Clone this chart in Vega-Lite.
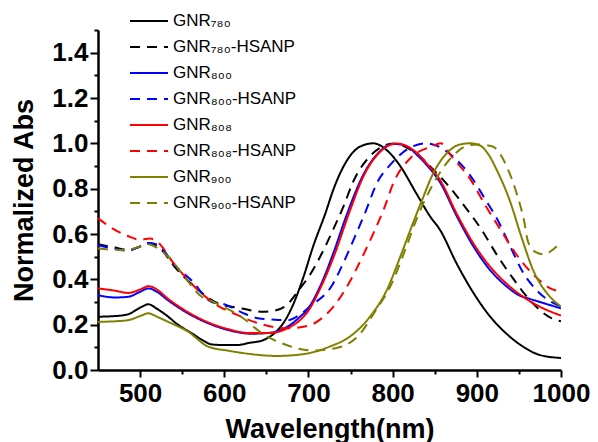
{
  "$schema": "https://vega.github.io/schema/vega-lite/v6.json",
  "autosize": {"type": "none"},
  "width": 463,
  "height": 340,
  "padding": {"left": 98, "top": 30, "right": 37, "bottom": 72},
  "background": "white",
  "config": {
    "view": {"stroke": null},
    "font": "Liberation Sans",
    "axis": {
      "grid": false,
      "domainColor": "#000",
      "domainWidth": 2.5,
      "tickColor": "#000",
      "tickWidth": 2,
      "labelColor": "#000",
      "labelFont": "Liberation Sans",
      "labelFontWeight": "bold",
      "labelFontSize": 26,
      "titleColor": "#000",
      "titleFont": "Liberation Sans",
      "titleFontWeight": "bold",
      "titleFontSize": 27
    }
  },
  "data": {"values": [
    {"s":"GNR₇₈₀","x":450,"y":0.235},{"s":"GNR₇₈₀","x":470,"y":0.238},{"s":"GNR₇₈₀","x":485,"y":0.245},{"s":"GNR₇₈₀","x":500,"y":0.275},{"s":"GNR₇₈₀","x":510,"y":0.29},{"s":"GNR₇₈₀","x":520,"y":0.27},{"s":"GNR₇₈₀","x":530,"y":0.245},{"s":"GNR₇₈₀","x":545,"y":0.2},{"s":"GNR₇₈₀","x":561,"y":0.163},{"s":"GNR₇₈₀","x":575,"y":0.13},{"s":"GNR₇₈₀","x":585,"y":0.113},{"s":"GNR₇₈₀","x":600,"y":0.11},{"s":"GNR₇₈₀","x":615,"y":0.11},{"s":"GNR₇₈₀","x":630,"y":0.12},{"s":"GNR₇₈₀","x":645,"y":0.13},{"s":"GNR₇₈₀","x":654,"y":0.147},{"s":"GNR₇₈₀","x":662,"y":0.17},{"s":"GNR₇₈₀","x":670,"y":0.206},{"s":"GNR₇₈₀","x":682,"y":0.29},{"s":"GNR₇₈₀","x":694,"y":0.41},{"s":"GNR₇₈₀","x":706,"y":0.55},{"s":"GNR₇₈₀","x":720,"y":0.69},{"s":"GNR₇₈₀","x":730,"y":0.8},{"s":"GNR₇₈₀","x":745,"y":0.92},{"s":"GNR₇₈₀","x":761,"y":0.985},{"s":"GNR₇₈₀","x":777,"y":1.0},{"s":"GNR₇₈₀","x":793,"y":0.97},{"s":"GNR₇₈₀","x":809,"y":0.9},{"s":"GNR₇₈₀","x":828,"y":0.78},{"s":"GNR₇₈₀","x":845,"y":0.675},{"s":"GNR₇₈₀","x":856,"y":0.62},{"s":"GNR₇₈₀","x":876,"y":0.47},{"s":"GNR₇₈₀","x":896,"y":0.34},{"s":"GNR₇₈₀","x":916,"y":0.235},{"s":"GNR₇₈₀","x":935,"y":0.161},{"s":"GNR₇₈₀","x":955,"y":0.103},{"s":"GNR₇₈₀","x":975,"y":0.066},{"s":"GNR₇₈₀","x":1000,"y":0.053},
    {"s":"GNR₇₈₀-HSANP","x":450,"y":0.555},{"s":"GNR₇₈₀-HSANP","x":470,"y":0.54},{"s":"GNR₇₈₀-HSANP","x":486,"y":0.53},{"s":"GNR₇₈₀-HSANP","x":500,"y":0.545},{"s":"GNR₇₈₀-HSANP","x":510,"y":0.56},{"s":"GNR₇₈₀-HSANP","x":522,"y":0.543},{"s":"GNR₇₈₀-HSANP","x":541,"y":0.455},{"s":"GNR₇₈₀-HSANP","x":565,"y":0.367},{"s":"GNR₇₈₀-HSANP","x":589,"y":0.3},{"s":"GNR₇₈₀-HSANP","x":620,"y":0.272},{"s":"GNR₇₈₀-HSANP","x":646,"y":0.257},{"s":"GNR₇₈₀-HSANP","x":660,"y":0.262},{"s":"GNR₇₈₀-HSANP","x":674,"y":0.286},{"s":"GNR₇₈₀-HSANP","x":690,"y":0.36},{"s":"GNR₇₈₀-HSANP","x":700,"y":0.41},{"s":"GNR₇₈₀-HSANP","x":716,"y":0.515},{"s":"GNR₇₈₀-HSANP","x":730,"y":0.625},{"s":"GNR₇₈₀-HSANP","x":742,"y":0.725},{"s":"GNR₇₈₀-HSANP","x":753,"y":0.83},{"s":"GNR₇₈₀-HSANP","x":771,"y":0.935},{"s":"GNR₇₈₀-HSANP","x":785,"y":0.98},{"s":"GNR₇₈₀-HSANP","x":800,"y":0.998},{"s":"GNR₇₈₀-HSANP","x":815,"y":0.985},{"s":"GNR₇₈₀-HSANP","x":830,"y":0.95},{"s":"GNR₇₈₀-HSANP","x":844,"y":0.9},{"s":"GNR₇₈₀-HSANP","x":864,"y":0.822},{"s":"GNR₇₈₀-HSANP","x":886,"y":0.72},{"s":"GNR₇₈₀-HSANP","x":906,"y":0.617},{"s":"GNR₇₈₀-HSANP","x":924,"y":0.507},{"s":"GNR₇₈₀-HSANP","x":943,"y":0.404},{"s":"GNR₇₈₀-HSANP","x":963,"y":0.308},{"s":"GNR₇₈₀-HSANP","x":989,"y":0.228},{"s":"GNR₇₈₀-HSANP","x":1000,"y":0.215},
    {"s":"GNR₈₀₀","x":450,"y":0.33},{"s":"GNR₈₀₀","x":470,"y":0.32},{"s":"GNR₈₀₀","x":486,"y":0.323},{"s":"GNR₈₀₀","x":500,"y":0.345},{"s":"GNR₈₀₀","x":510,"y":0.36},{"s":"GNR₈₀₀","x":520,"y":0.345},{"s":"GNR₈₀₀","x":533,"y":0.308},{"s":"GNR₈₀₀","x":557,"y":0.25},{"s":"GNR₈₀₀","x":581,"y":0.206},{"s":"GNR₈₀₀","x":605,"y":0.176},{"s":"GNR₈₀₀","x":632,"y":0.16},{"s":"GNR₈₀₀","x":654,"y":0.164},{"s":"GNR₈₀₀","x":678,"y":0.198},{"s":"GNR₈₀₀","x":690,"y":0.235},{"s":"GNR₈₀₀","x":698,"y":0.264},{"s":"GNR₈₀₀","x":714,"y":0.37},{"s":"GNR₈₀₀","x":730,"y":0.52},{"s":"GNR₈₀₀","x":745,"y":0.68},{"s":"GNR₈₀₀","x":765,"y":0.86},{"s":"GNR₈₀₀","x":785,"y":0.965},{"s":"GNR₈₀₀","x":800,"y":0.998},{"s":"GNR₈₀₀","x":815,"y":0.99},{"s":"GNR₈₀₀","x":830,"y":0.945},{"s":"GNR₈₀₀","x":845,"y":0.885},{"s":"GNR₈₀₀","x":856,"y":0.83},{"s":"GNR₈₀₀","x":876,"y":0.68},{"s":"GNR₈₀₀","x":896,"y":0.545},{"s":"GNR₈₀₀","x":916,"y":0.44},{"s":"GNR₈₀₀","x":935,"y":0.37},{"s":"GNR₈₀₀","x":950,"y":0.33},{"s":"GNR₈₀₀","x":962,"y":0.315},{"s":"GNR₈₀₀","x":975,"y":0.3},{"s":"GNR₈₀₀","x":990,"y":0.283},{"s":"GNR₈₀₀","x":1000,"y":0.272},
    {"s":"GNR₈₀₀-HSANP","x":450,"y":0.55},{"s":"GNR₈₀₀-HSANP","x":470,"y":0.535},{"s":"GNR₈₀₀-HSANP","x":486,"y":0.526},{"s":"GNR₈₀₀-HSANP","x":500,"y":0.545},{"s":"GNR₈₀₀-HSANP","x":511,"y":0.56},{"s":"GNR₈₀₀-HSANP","x":522,"y":0.55},{"s":"GNR₈₀₀-HSANP","x":541,"y":0.463},{"s":"GNR₈₀₀-HSANP","x":561,"y":0.396},{"s":"GNR₈₀₀-HSANP","x":585,"y":0.3},{"s":"GNR₈₀₀-HSANP","x":600,"y":0.29},{"s":"GNR₈₀₀-HSANP","x":620,"y":0.255},{"s":"GNR₈₀₀-HSANP","x":640,"y":0.228},{"s":"GNR₈₀₀-HSANP","x":660,"y":0.222},{"s":"GNR₈₀₀-HSANP","x":676,"y":0.22},{"s":"GNR₈₀₀-HSANP","x":690,"y":0.245},{"s":"GNR₈₀₀-HSANP","x":704,"y":0.286},{"s":"GNR₈₀₀-HSANP","x":727,"y":0.367},{"s":"GNR₈₀₀-HSANP","x":742,"y":0.477},{"s":"GNR₈₀₀-HSANP","x":756,"y":0.595},{"s":"GNR₈₀₀-HSANP","x":768,"y":0.7},{"s":"GNR₈₀₀-HSANP","x":781,"y":0.822},{"s":"GNR₈₀₀-HSANP","x":799,"y":0.913},{"s":"GNR₈₀₀-HSANP","x":824,"y":0.987},{"s":"GNR₈₀₀-HSANP","x":840,"y":1.0},{"s":"GNR₈₀₀-HSANP","x":852,"y":0.99},{"s":"GNR₈₀₀-HSANP","x":870,"y":0.947},{"s":"GNR₈₀₀-HSANP","x":892,"y":0.859},{"s":"GNR₈₀₀-HSANP","x":910,"y":0.753},{"s":"GNR₈₀₀-HSANP","x":926,"y":0.653},{"s":"GNR₈₀₀-HSANP","x":940,"y":0.543},{"s":"GNR₈₀₀-HSANP","x":954,"y":0.436},{"s":"GNR₈₀₀-HSANP","x":974,"y":0.341},{"s":"GNR₈₀₀-HSANP","x":1000,"y":0.28},
    {"s":"GNR₈₀₈","x":450,"y":0.36},{"s":"GNR₈₀₈","x":470,"y":0.35},{"s":"GNR₈₀₈","x":486,"y":0.34},{"s":"GNR₈₀₈","x":500,"y":0.355},{"s":"GNR₈₀₈","x":510,"y":0.37},{"s":"GNR₈₀₈","x":520,"y":0.355},{"s":"GNR₈₀₈","x":533,"y":0.315},{"s":"GNR₈₀₈","x":557,"y":0.255},{"s":"GNR₈₀₈","x":581,"y":0.21},{"s":"GNR₈₀₈","x":605,"y":0.18},{"s":"GNR₈₀₈","x":630,"y":0.163},{"s":"GNR₈₀₈","x":654,"y":0.163},{"s":"GNR₈₀₈","x":678,"y":0.19},{"s":"GNR₈₀₈","x":690,"y":0.22},{"s":"GNR₈₀₈","x":700,"y":0.262},{"s":"GNR₈₀₈","x":714,"y":0.36},{"s":"GNR₈₀₈","x":730,"y":0.5},{"s":"GNR₈₀₈","x":749,"y":0.7},{"s":"GNR₈₀₈","x":765,"y":0.852},{"s":"GNR₈₀₈","x":785,"y":0.962},{"s":"GNR₈₀₈","x":805,"y":0.999},{"s":"GNR₈₀₈","x":825,"y":0.969},{"s":"GNR₈₀₈","x":844,"y":0.896},{"s":"GNR₈₀₈","x":856,"y":0.84},{"s":"GNR₈₀₈","x":876,"y":0.69},{"s":"GNR₈₀₈","x":896,"y":0.558},{"s":"GNR₈₀₈","x":916,"y":0.455},{"s":"GNR₈₀₈","x":935,"y":0.382},{"s":"GNR₈₀₈","x":955,"y":0.323},{"s":"GNR₈₀₈","x":975,"y":0.279},{"s":"GNR₈₀₈","x":1000,"y":0.24},
    {"s":"GNR₈₀₈-HSANP","x":450,"y":0.67},{"s":"GNR₈₀₈-HSANP","x":457,"y":0.65},{"s":"GNR₈₀₈-HSANP","x":486,"y":0.59},{"s":"GNR₈₀₈-HSANP","x":500,"y":0.575},{"s":"GNR₈₀₈-HSANP","x":512,"y":0.58},{"s":"GNR₈₀₈-HSANP","x":522,"y":0.56},{"s":"GNR₈₀₈-HSANP","x":540,"y":0.47},{"s":"GNR₈₀₈-HSANP","x":563,"y":0.374},{"s":"GNR₈₀₈-HSANP","x":588,"y":0.294},{"s":"GNR₈₀₈-HSANP","x":616,"y":0.242},{"s":"GNR₈₀₈-HSANP","x":646,"y":0.2},{"s":"GNR₈₀₈-HSANP","x":676,"y":0.184},{"s":"GNR₈₀₈-HSANP","x":702,"y":0.198},{"s":"GNR₈₀₈-HSANP","x":718,"y":0.235},{"s":"GNR₈₀₈-HSANP","x":731,"y":0.286},{"s":"GNR₈₀₈-HSANP","x":749,"y":0.389},{"s":"GNR₈₀₈-HSANP","x":764,"y":0.499},{"s":"GNR₈₀₈-HSANP","x":777,"y":0.602},{"s":"GNR₈₀₈-HSANP","x":790,"y":0.714},{"s":"GNR₈₀₈-HSANP","x":801,"y":0.826},{"s":"GNR₈₀₈-HSANP","x":822,"y":0.938},{"s":"GNR₈₀₈-HSANP","x":847,"y":0.987},{"s":"GNR₈₀₈-HSANP","x":857,"y":1.0},{"s":"GNR₈₀₈-HSANP","x":871,"y":0.937},{"s":"GNR₈₀₈-HSANP","x":892,"y":0.843},{"s":"GNR₈₀₈-HSANP","x":910,"y":0.727},{"s":"GNR₈₀₈-HSANP","x":927,"y":0.626},{"s":"GNR₈₀₈-HSANP","x":946,"y":0.515},{"s":"GNR₈₀₈-HSANP","x":969,"y":0.414},{"s":"GNR₈₀₈-HSANP","x":985,"y":0.365},{"s":"GNR₈₀₈-HSANP","x":1000,"y":0.345},
    {"s":"GNR₉₀₀","x":450,"y":0.212},{"s":"GNR₉₀₀","x":470,"y":0.215},{"s":"GNR₉₀₀","x":486,"y":0.22},{"s":"GNR₉₀₀","x":500,"y":0.238},{"s":"GNR₉₀₀","x":510,"y":0.25},{"s":"GNR₉₀₀","x":520,"y":0.235},{"s":"GNR₉₀₀","x":533,"y":0.213},{"s":"GNR₉₀₀","x":557,"y":0.169},{"s":"GNR₉₀₀","x":581,"y":0.103},{"s":"GNR₉₀₀","x":605,"y":0.085},{"s":"GNR₉₀₀","x":632,"y":0.07},{"s":"GNR₉₀₀","x":662,"y":0.062},{"s":"GNR₉₀₀","x":694,"y":0.07},{"s":"GNR₉₀₀","x":725,"y":0.103},{"s":"GNR₉₀₀","x":749,"y":0.147},{"s":"GNR₉₀₀","x":773,"y":0.235},{"s":"GNR₉₀₀","x":793,"y":0.352},{"s":"GNR₉₀₀","x":809,"y":0.499},{"s":"GNR₉₀₀","x":821,"y":0.617},{"s":"GNR₉₀₀","x":835,"y":0.75},{"s":"GNR₉₀₀","x":848,"y":0.866},{"s":"GNR₉₀₀","x":864,"y":0.955},{"s":"GNR₉₀₀","x":880,"y":0.995},{"s":"GNR₉₀₀","x":892,"y":1.0},{"s":"GNR₉₀₀","x":904,"y":0.99},{"s":"GNR₉₀₀","x":914,"y":0.95},{"s":"GNR₉₀₀","x":924,"y":0.88},{"s":"GNR₉₀₀","x":939,"y":0.749},{"s":"GNR₉₀₀","x":953,"y":0.587},{"s":"GNR₉₀₀","x":967,"y":0.44},{"s":"GNR₉₀₀","x":987,"y":0.323},{"s":"GNR₉₀₀","x":1000,"y":0.28},
    {"s":"GNR₉₀₀-HSANP","x":450,"y":0.536},{"s":"GNR₉₀₀-HSANP","x":470,"y":0.53},{"s":"GNR₉₀₀-HSANP","x":484,"y":0.529},{"s":"GNR₉₀₀-HSANP","x":500,"y":0.545},{"s":"GNR₉₀₀-HSANP","x":509,"y":0.555},{"s":"GNR₉₀₀-HSANP","x":520,"y":0.54},{"s":"GNR₉₀₀-HSANP","x":535,"y":0.493},{"s":"GNR₉₀₀-HSANP","x":555,"y":0.4},{"s":"GNR₉₀₀-HSANP","x":571,"y":0.33},{"s":"GNR₉₀₀-HSANP","x":590,"y":0.295},{"s":"GNR₉₀₀-HSANP","x":620,"y":0.235},{"s":"GNR₉₀₀-HSANP","x":646,"y":0.159},{"s":"GNR₉₀₀-HSANP","x":674,"y":0.11},{"s":"GNR₉₀₀-HSANP","x":705,"y":0.086},{"s":"GNR₉₀₀-HSANP","x":733,"y":0.097},{"s":"GNR₉₀₀-HSANP","x":759,"y":0.15},{"s":"GNR₉₀₀-HSANP","x":779,"y":0.257},{"s":"GNR₉₀₀-HSANP","x":799,"y":0.382},{"s":"GNR₉₀₀-HSANP","x":813,"y":0.511},{"s":"GNR₉₀₀-HSANP","x":830,"y":0.68},{"s":"GNR₉₀₀-HSANP","x":848,"y":0.82},{"s":"GNR₉₀₀-HSANP","x":869,"y":0.934},{"s":"GNR₉₀₀-HSANP","x":889,"y":0.99},{"s":"GNR₉₀₀-HSANP","x":900,"y":0.995},{"s":"GNR₉₀₀-HSANP","x":918,"y":0.987},{"s":"GNR₉₀₀-HSANP","x":936,"y":0.894},{"s":"GNR₉₀₀-HSANP","x":948,"y":0.771},{"s":"GNR₉₀₀-HSANP","x":956,"y":0.661},{"s":"GNR₉₀₀-HSANP","x":961,"y":0.564},{"s":"GNR₉₀₀-HSANP","x":970,"y":0.52},{"s":"GNR₉₀₀-HSANP","x":980,"y":0.51},{"s":"GNR₉₀₀-HSANP","x":990,"y":0.53},{"s":"GNR₉₀₀-HSANP","x":1000,"y":0.565}
  ]},
  "mark": {"type": "line", "strokeWidth": 2, "interpolate": "monotone", "clip": true},
  "encoding": {
    "x": {
      "field": "x", "type": "quantitative",
      "scale": {"domain": [450, 1000], "nice": false, "zero": false},
      "axis": {
        "title": "Wavelength(nm)",
        "values": [500, 550, 600, 650, 700, 750, 800, 850, 900, 950, 1000],
        "labelExpr": "datum.value % 100 === 0 ? format(datum.value, 'd') : ''",
        "tickSize": {"condition": {"test": "datum.value % 100 === 0", "value": 7}, "value": 4},
        "labelPadding": 3,
        "labelFlush": false,
        "titlePadding": 10
      }
    },
    "y": {
      "field": "y", "type": "quantitative",
      "scale": {"domain": [0, 1.5], "nice": false},
      "axis": {
        "title": "Normalized Abs",
        "values": [0, 0.1, 0.2, 0.3, 0.4, 0.5, 0.6, 0.7, 0.8, 0.9, 1.0, 1.1, 1.2, 1.3, 1.4, 1.5],
        "labelExpr": "round(datum.value * 10) % 2 === 0 ? format(datum.value, '.1f') : ''",
        "tickSize": {"condition": {"test": "round(datum.value * 10) % 2 === 0", "value": 8}, "value": 4},
        "labelPadding": 2,
        "labelFlush": false,
        "titlePadding": 13
      }
    },
    "color": {
      "field": "s", "type": "nominal",
      "scale": {
        "domain": ["GNR₇₈₀", "GNR₇₈₀-HSANP", "GNR₈₀₀", "GNR₈₀₀-HSANP", "GNR₈₀₈", "GNR₈₀₈-HSANP", "GNR₉₀₀", "GNR₉₀₀-HSANP"],
        "range": ["#000000", "#000000", "#0000ff", "#0000ff", "#ff0000", "#ff0000", "#808000", "#808000"]
      },
      "legend": {
        "title": null,
        "orient": "none",
        "legendX": 31,
        "legendY": -22,
        "padding": 0,
        "symbolType": "stroke",
        "symbolSize": 1444,
        "symbolStrokeWidth": 2,
        "clipHeight": 26,
        "rowPadding": 0,
        "labelFont": "Liberation Sans",
        "labelFontSize": 17,
        "labelColor": "#000",
        "labelOffset": 4,
        "labelLimit": 300
      }
    },
    "strokeDash": {
      "field": "s", "type": "nominal",
      "scale": {
        "domain": ["GNR₇₈₀", "GNR₇₈₀-HSANP", "GNR₈₀₀", "GNR₈₀₀-HSANP", "GNR₈₀₈", "GNR₈₀₈-HSANP", "GNR₉₀₀", "GNR₉₀₀-HSANP"],
        "range": [[1, 0], [10, 7], [1, 0], [10, 7], [1, 0], [10, 7], [1, 0], [10, 7]]
      }
    }
  }
}
